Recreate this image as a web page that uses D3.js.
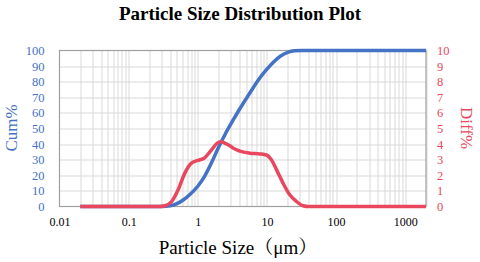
<!DOCTYPE html>
<html>
<head>
<meta charset="utf-8">
<script src="https://cdn.jsdelivr.net/npm/d3@7"></script>
<style>
  body { margin: 0; background: #fff; }
  text { font-family: "Liberation Serif", "Times New Roman", "Noto Serif CJK SC", "Noto Sans CJK SC", serif; }
</style>
</head>
<body>
<div id="chart"></div>
<script>
// cumulative curve (blue, left axis)
const cumSizes  = [0.02, 0.3, 0.4, 0.5, 0.63, 0.79, 1.0, 1.26, 1.58, 2.0, 2.5, 3.16, 3.98, 5.0, 6.3, 7.94, 10, 12.6, 15.8, 20, 25, 31.6, 100, 1000, 2000];
const cumValues = [0,    0,   0.4, 1.8, 4.5,  8.2,  13,  19.5, 28,   38,  46.5, 54.5, 62, 69, 76, 82.5, 88, 92.8, 96.5, 98.8, 99.8, 100, 100, 100, 100];

// differential curve (red, right axis)
const diffSizes  = [0.02, 0.28, 0.335, 0.42, 0.52, 0.65, 0.81, 1.0, 1.27, 1.58, 1.97, 2.2, 2.46, 2.91, 3.25, 4.06, 5.67, 7.89, 9.86, 11.6, 13.8, 17.1, 21.4, 26.8, 33.4, 40, 100, 1000, 2000];
const diffValues = [0,    0,    0.05,  0.32, 1.07, 2.14, 2.78, 2.95, 3.14, 3.63, 4.1, 4.15, 4.06, 3.9, 3.74, 3.55, 3.42, 3.37, 3.3, 2.99, 2.35, 1.5, 0.75, 0.32, 0.05, 0, 0, 0, 0];

const xTicks = [0.01, 0.1, 1, 10, 100, 1000];
const yLeftTicks = d3.range(0, 101, 10);
const yRightTicks = d3.range(0, 11, 1);

const W = 480, H = 262;
const margin = {top: 50.5, right: 54, bottom: 55.5, left: 59.5};
const width = W - margin.left - margin.right,
      height = H - margin.top - margin.bottom;

const blue = "#4472C4", red = "#E8475E";

const svg = d3.select("#chart").append("svg")
  .attr("width", W).attr("height", H);

const g = svg.append("g")
  .attr("transform", `translate(${margin.left}, ${margin.top})`);

const x = d3.scaleLog().domain([0.01, 2000]).range([0, width]);
const yL = d3.scaleLinear().domain([0, 100]).range([height, 0]);
const yR = d3.scaleLinear().domain([0, 10]).range([height, 0]);

// grid: all log minor lines + horizontal every 10
const minor = [];
for (let e = -2; e <= 3; e++) {
  for (let k = 1; k <= 9; k++) {
    const v = k * Math.pow(10, e);
    if (v > 0.01 && v <= 2000) minor.push(v);
  }
}
g.append("g").selectAll("line").data(minor).join("line")
  .attr("x1", d => Math.round(x(d)) + 0.5).attr("x2", d => Math.round(x(d)) + 0.5)
  .attr("y1", 0).attr("y2", height)
  .attr("stroke", "#d9d9d9").attr("stroke-width", 1);
g.append("g").selectAll("line").data(yLeftTicks.slice(1, -1)).join("line")
  .attr("x1", 0).attr("x2", width)
  .attr("y1", d => Math.round(yL(d)) + 0.5).attr("y2", d => Math.round(yL(d)) + 0.5)
  .attr("stroke", "#d9d9d9").attr("stroke-width", 1);

// frame
g.append("rect")
  .attr("x", 0).attr("y", 0).attr("width", width).attr("height", height)
  .attr("fill", "none").attr("stroke", "#a0a0a0").attr("stroke-width", 1.2);

// lines
const cumData = cumSizes.map((s, i) => ({s: s, v: cumValues[i]}));
const diffData = diffSizes.map((s, i) => ({s: s, v: diffValues[i]}));

g.append("path").datum(cumData)
  .attr("fill", "none").attr("stroke", blue).attr("stroke-width", 3.5)
  .attr("stroke-linejoin", "round")
  .attr("d", d3.line().curve(d3.curveMonotoneX)
    .x(d => x(d.s)).y(d => yL(d.v)));

g.append("path").datum(diffData)
  .attr("fill", "none").attr("stroke", red).attr("stroke-width", 3.5)
  .attr("stroke-linejoin", "round")
  .attr("d", d3.line().curve(d3.curveMonotoneX)
    .x(d => x(d.s)).y(d => yR(d.v)));

// axes
const xAxis = g.append("g")
  .attr("transform", `translate(0, ${height})`)
  .call(d3.axisBottom(x).tickValues(xTicks).tickFormat(d => String(d)).tickSize(0).tickPadding(11));
xAxis.select(".domain").remove();
xAxis.selectAll("text").attr("font-size", 12).attr("fill", "#000")
  .style("font-family", "Liberation Serif, serif");

const yAxisL = g.append("g")
  .call(d3.axisLeft(yL).tickValues(yLeftTicks).tickSize(0).tickPadding(15));
yAxisL.select(".domain").remove();
yAxisL.selectAll("text").attr("font-size", 12.5).attr("fill", blue)
  .style("font-family", "Liberation Serif, serif");

const yAxisR = g.append("g")
  .attr("transform", `translate(${width}, 0)`)
  .call(d3.axisRight(yR).tickValues(yRightTicks).tickSize(0).tickPadding(11));
yAxisR.select(".domain").remove();
yAxisR.selectAll("text").attr("font-size", 12.5).attr("fill", red)
  .style("font-family", "Liberation Serif, serif");

// titles
svg.append("text")
  .attr("x", 240).attr("y", 20)
  .attr("text-anchor", "middle")
  .attr("font-size", 19).attr("font-weight", "bold").attr("fill", "#000")
  .text("Particle Size Distribution Plot");

svg.append("text")
  .attr("x", 238).attr("y", 254)
  .attr("text-anchor", "middle")
  .attr("font-size", 19).attr("fill", "#000")
  .text("Particle Size（μm）");

svg.append("text")
  .attr("transform", "translate(17, 128) rotate(-90)")
  .attr("text-anchor", "middle")
  .attr("font-size", 17).attr("fill", blue)
  .text("Cum%");

svg.append("text")
  .attr("transform", "translate(461, 128) rotate(90)")
  .attr("text-anchor", "middle")
  .attr("font-size", 17).attr("fill", red)
  .text("Diff%");
</script>
</body>
</html>
